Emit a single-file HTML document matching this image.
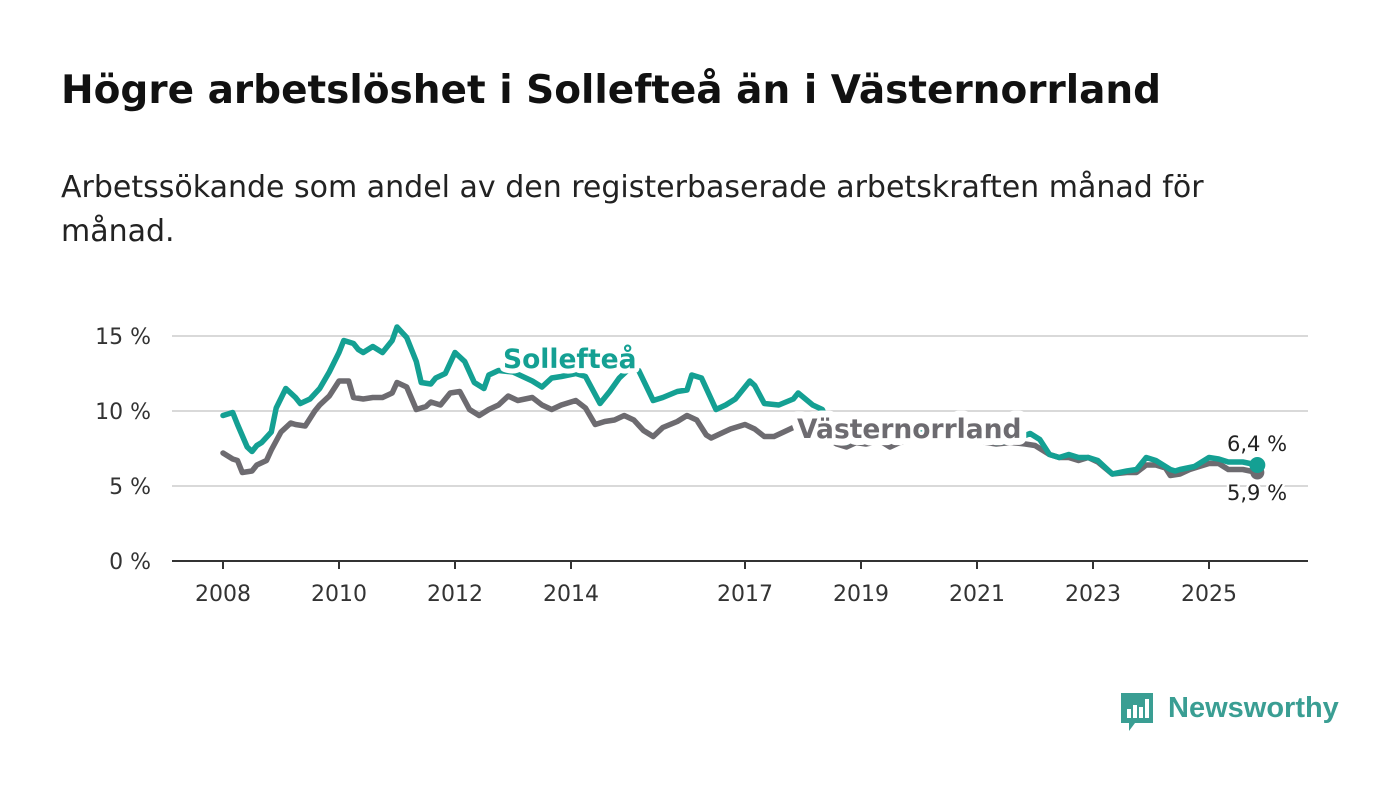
<!DOCTYPE html>
<html><head><meta charset="utf-8">
<style>
body{margin:0;background:#fff;width:1400px;height:794px;overflow:hidden;font-family:"DejaVu Sans","Liberation Sans",sans-serif;color:#111;}
#title{position:absolute;left:61px;top:68px;font-size:39px;font-weight:bold;margin:0;white-space:nowrap;}
#sub{position:absolute;left:61px;top:166px;font-size:30px;line-height:44px;width:1185px;margin:0;color:#222;}
svg{position:absolute;left:0;top:0;}
</style></head><body>
<h1 id="title">Högre arbetslöshet i Sollefteå än i Västernorrland</h1>
<p id="sub">Arbetssökande som andel av den registerbaserade arbetskraften månad för månad.</p>
<svg id="chart" width="1400" height="794"></svg>
<script>
// months since Jan 2008
const solMonths=[0,2,3,5,6,7,8,10,11,13,15,16,18,20,22,24,25,27,28,29,31,33,35,36,38,40,41,43,44,46,48,50,52,54,55,57,60,64,66,68,70,73,75,78,80,82,84,86,89,91,94,96,97,99,102,104,106,109,110,112,115,118,119,122,124,126,129,131,134,137,140,145,150,155,160,163,167,169,171,173,175,177,179,181,184,187,189,191,193,196,197,198,201,204,206,208,211,214];
const solValues=[9.7,9.9,9.1,7.6,7.3,7.7,7.9,8.6,10.2,11.5,10.9,10.5,10.8,11.5,12.6,13.9,14.7,14.5,14.1,13.9,14.3,13.9,14.7,15.6,14.9,13.3,11.9,11.8,12.2,12.5,13.9,13.3,11.9,11.5,12.4,12.7,12.6,12.0,11.6,12.2,12.3,12.5,12.3,10.5,11.3,12.2,12.8,12.7,10.7,10.9,11.3,11.4,12.4,12.2,10.1,10.4,10.8,12.0,11.7,10.5,10.4,10.8,11.2,10.4,10.1,8.6,7.9,8.3,8.5,8.2,8.5,8.8,8.6,8.5,7.9,8.0,8.5,8.1,7.1,6.9,7.1,6.9,6.9,6.7,5.8,6.0,6.1,6.9,6.7,6.1,6.0,6.1,6.3,6.9,6.8,6.6,6.6,6.4];
const vnMonths=[0,2,3,4,6,7,9,10,12,14,15,17,19,20,22,24,26,27,29,31,33,35,36,38,40,42,43,45,47,49,51,53,55,57,59,61,64,66,68,70,73,75,77,79,81,83,85,87,89,91,94,96,98,100,101,103,105,108,110,112,114,116,118,121,125,127,129,131,133,136,138,140,144,148,152,156,160,163,166,168,171,173,175,177,179,181,184,187,189,191,193,195,196,198,200,202,204,206,208,211,214];
const vnValues=[7.2,6.8,6.7,5.9,6.0,6.4,6.7,7.4,8.6,9.2,9.1,9.0,10.0,10.4,11.0,12.0,12.0,10.9,10.8,10.9,10.9,11.2,11.9,11.6,10.1,10.3,10.6,10.4,11.2,11.3,10.1,9.7,10.1,10.4,11.0,10.7,10.9,10.4,10.1,10.4,10.7,10.2,9.1,9.3,9.4,9.7,9.4,8.7,8.3,8.9,9.3,9.7,9.4,8.4,8.2,8.5,8.8,9.1,8.8,8.3,8.3,8.6,8.9,9.0,8.2,7.8,7.6,7.9,7.8,8.0,7.6,7.9,8.1,8.2,8.1,8.0,7.8,7.9,7.8,7.7,7.1,6.9,6.9,6.7,6.9,6.6,5.8,5.9,5.9,6.4,6.4,6.2,5.7,5.8,6.1,6.3,6.5,6.5,6.1,6.1,5.9];
const yTicks=[0,5,10,15];
const yTickLabels=["0 %","5 %","10 %","15 %"];
const xTickYears=[2008,2010,2012,2014,2017,2019,2021,2023,2025];

const svg=document.getElementById('chart');
const NS='http://www.w3.org/2000/svg';
const X0=223,PXY=58,Y0=561,PXV=15;
const xM=m=>X0+m*PXY/12;
const xYr=y=>X0+(y-2008)*PXY;
const yV=v=>Y0-v*PXV;
function mk(t,a,p){const e=document.createElementNS(NS,t);for(const k in a)e.setAttribute(k,a[k]);(p||svg).appendChild(e);return e;}

yTicks.forEach((v,i)=>{
  if(v>0){const g=mk('line',{x1:172,x2:1308,y1:yV(v),y2:yV(v),stroke:'#d9d9d9','stroke-width':2});
  
  }
  const t=mk('text',{x:151,y:yV(v)+8,'text-anchor':'end','font-size':22,fill:'#333'});
  t.textContent=yTickLabels[i];
  
  
});
const ax=mk('line',{x1:172,x2:1308,y1:Y0,y2:Y0,stroke:'#333','stroke-width':2});


xTickYears.forEach(y=>{
  const tk=mk('line',{x1:xYr(y),x2:xYr(y),y1:Y0,y2:Y0+8,stroke:'#333','stroke-width':2});
  
  
  const t=mk('text',{x:xYr(y),y:601,'text-anchor':'middle','font-size':22,fill:'#333'});
  t.textContent=y;
  
  
});
function line(ms,vs,col,name){
  const d=ms.map((m,i)=>(i?'L':'M')+xM(m).toFixed(1)+','+yV(vs[i]).toFixed(1)).join('');
  const p=mk('path',{d:d,fill:'none',stroke:col,'stroke-width':5.5,'stroke-linejoin':'round','stroke-linecap':'round'});
  
  
}
line(vnMonths,vnValues,'#6d6b70','vasternorrland-line');
line(solMonths,solValues,'#14a093','solleftea-line');
const lv=vnMonths.length-1, ls=solMonths.length-1;
const d1=mk('circle',{cx:xM(vnMonths[lv]),cy:yV(vnValues[lv]),r:7,fill:'#6d6b70'});


const d2=mk('circle',{cx:xM(solMonths[ls]),cy:yV(solValues[ls]),r:8,fill:'#14a093'});


function lab(txt,x,y,col,size,bold,name,halo){
  const t=mk('text',{x:x,y:y,'font-size':size,'font-weight':bold?'bold':'normal',fill:col,stroke:'#fff','stroke-width':halo,'paint-order':'stroke','stroke-linejoin':'round'});
  t.textContent=txt;
  
  
}
lab('Sollefteå',503,368,'#14a093',26.5,true,'solleftea-label',10);
lab('Västernorrland',797,438,'#6d6b70',26.5,true,'vasternorrland-label',14);
lab('6,4 %',1227,451,'#222',21,false,'solleftea-end-value',5);
lab('5,9 %',1227,500,'#222',21,false,'vasternorrland-end-value',5);
</script>
<div style="position:absolute;left:1119px;top:691px;">
<svg width="40" height="44" style="position:absolute;left:0;top:0">
<path d="M2 2h32v30h-18l-6 8v-8h-8z" fill="#3a9e93"/>
<rect x="8" y="18" width="4" height="9" fill="#fff"/><rect x="14" y="14" width="4" height="13" fill="#fff"/><rect x="20" y="16" width="4" height="11" fill="#fff"/><rect x="26" y="8" width="4" height="19" fill="#fff"/>
</svg>
<span style="position:absolute;left:49px;top:1px;font-family:'Liberation Sans',sans-serif;font-size:29px;font-weight:bold;color:#3a9e93;white-space:nowrap">Newsworthy</span>
</div>
</body></html>
